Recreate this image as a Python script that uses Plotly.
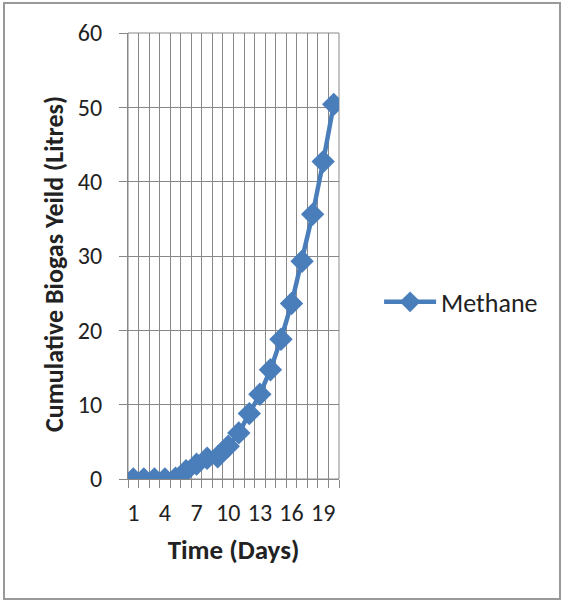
import plotly.graph_objects as go

days = list(range(1, 21))
methane = [0.0, 0.0, 0.0, 0.0, 0.1, 1.1, 2.0, 2.8, 3.0, 4.4, 6.2, 8.8, 11.4, 14.7, 18.8, 23.6, 29.3, 35.6, 42.7, 50.4]
x_tick_vals = [1, 4, 7, 10, 13, 16, 19]
x_tick_text = ["1", "4", "7", "10", "13", "16", "19"]
y_tick_vals = [0, 10, 20, 30, 40, 50, 60]

FONT = "Carlito, Lato, 'Open Sans', sans-serif"
BLUE = "#4A7EBB"
GRID = "#888888"

fig = go.Figure()
fig.add_trace(go.Scatter(
    x=days, y=methane, name="Methane", mode="lines+markers",
    line=dict(color=BLUE, width=4.5),
    marker=dict(symbol="diamond", size=18, color=BLUE),
))

fig.update_layout(
    width=564, height=602,
    margin=dict(l=128, r=225, t=33, b=123),
    paper_bgcolor="white", plot_bgcolor="white",
    font=dict(family=FONT, size=24, color="#222222"),
    showlegend=True,
    legend=dict(x=1.19, xanchor="left", y=0.397, yanchor="middle",
                font=dict(size=26, color="#222222"), itemwidth=52,
                bgcolor="rgba(0,0,0,0)"),
    xaxis=dict(
        range=[0.5, 20.5], tickmode="array", tickvals=x_tick_vals, ticktext=x_tick_text,
        showgrid=False, ticks="", showline=True, linecolor=GRID, linewidth=1,
        zeroline=False,
        minor=dict(tick0=0.5, dtick=1, showgrid=True, gridcolor=GRID, gridwidth=1,
                   ticks="outside", ticklen=8, tickcolor=GRID),
        tickfont=dict(size=24), ticklabelstandoff=12,
        title=dict(text="<b>Time (Days)</b>", font=dict(size=27), standoff=14),
    ),
    yaxis=dict(
        range=[0, 60], tickmode="array", tickvals=y_tick_vals,
        showgrid=True, gridcolor=GRID, gridwidth=1,
        ticks="outside", ticklen=8, tickcolor=GRID,
        showline=True, linecolor=GRID, linewidth=1, zeroline=False,
        tickfont=dict(size=24), ticklabelstandoff=12,
    ),
    annotations=[
        dict(text="<b>Cumulative Biogas Yeild (Litres)</b>", xref="paper", yref="paper",
             x=(54 - 128) / 211, y=(479 - 264) / 446, xanchor="center", yanchor="middle",
             textangle=-90, showarrow=False, font=dict(size=26, color="#222222")),
    ],
    shapes=[
        dict(type="rect", xref="paper", yref="paper", x0=0, x1=1, y0=0, y1=1,
             line=dict(color=GRID, width=1), fillcolor="rgba(0,0,0,0)", layer="below"),
        dict(type="rect", xref="paper", yref="paper",
             x0=-124/211, x1=(560-128)/211, y0=-(599-479)/446, y1=(479-3)/446,
             line=dict(color="#999999", width=2), fillcolor="rgba(0,0,0,0)"),
    ],
)

fig.write_html("out.html")
